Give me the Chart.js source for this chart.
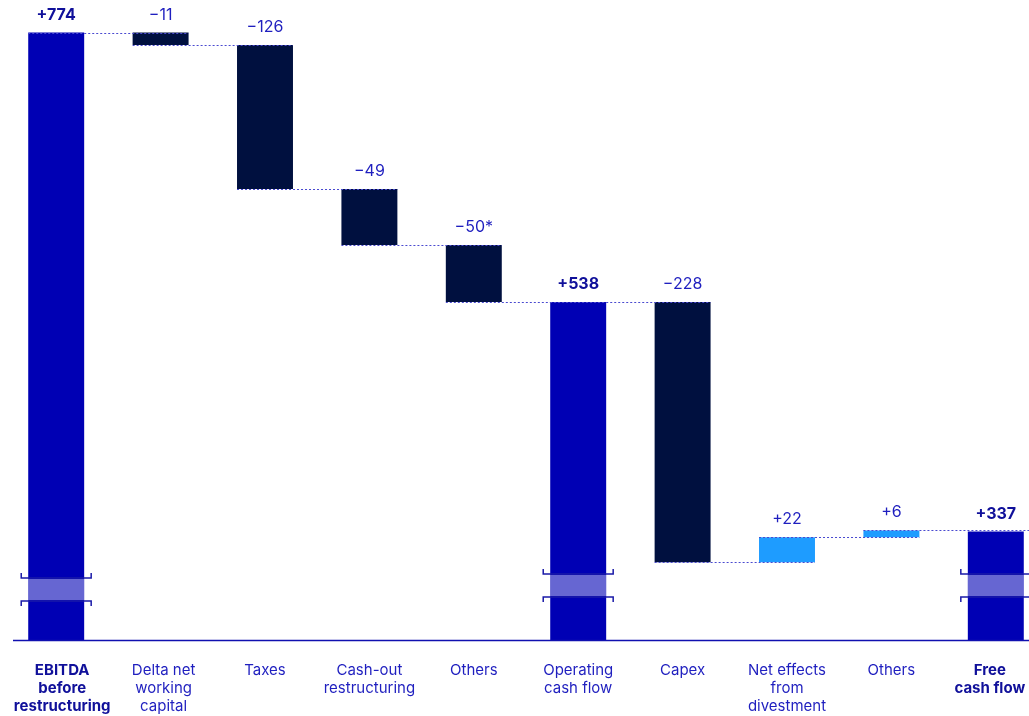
<!DOCTYPE html>
<html>
<head>
<meta charset="utf-8">
<script src="https://cdn.jsdelivr.net/npm/chart.js@4/dist/chart.umd.min.js"></script>
<style>
  html, body { margin: 0; padding: 0; background: #fff; }
  #wrap { width: 1029px; height: 716px; overflow: hidden; position: relative; }
  canvas { display: block; }
</style>
</head>
<body>
<div id="wrap"><canvas id="cashChart" width="1048" height="716"></canvas></div>
<script>
// cash flow bridge, values in the chart's units
const categories = [
  ["EBITDA", "before", "restructuring"],
  ["Delta net", "working", "capital"],
  ["Taxes"],
  ["Cash-out", "restructuring"],
  ["Others"],
  ["Operating", "cash flow"],
  ["Capex"],
  ["Net effects", "from", "divestment"],
  ["Others"],
  ["Free", "cash flow"],
]
const values = [774, -11, -126, -49, -50, 538, -228, 22, 6, 337]
const isTotal = [true, false, false, false, false, true, false, false, false, true]
const boldCategory = [true, false, false, false, false, false, false, false, false, true]
const valueLabels = ["+774", "\u221211", "\u2212126", "\u221249", "\u221250*", "+538", "\u2212228", "+22", "+6", "+337"]
const axisFloor = 242 // axis is broken, totals start here
const axisTop = 785

const TOTAL = "#0000b4"
const NEG = "#00103f"
const POS = "#1e9cff"
const TEXT = "#1f1fbf"
const TEXT_BOLD = "#10109a"
const FONT = "Inter, 'Noto Sans', sans-serif"

// floating ranges + the level each bar ends on
const ranges = []
const levels = []
let running = 0
values.forEach((v, i) => {
  if (isTotal[i]) {
    ranges.push([axisFloor, v])
    running = v
  } else {
    ranges.push([running, running + v])
    running += v
  }
  levels.push(running)
})

const colors = values.map((v, i) => (isTotal[i] ? TOTAL : v < 0 ? NEG : POS))

// break band position (px) for the total bars
const breakTop = { 0: 579, 5: 575, 9: 575 }
// category labels at the edges are pulled inwards a bit
const labelNudge = { 0: 6, 1: 3, 9: -6 }

const bridgePlugin = {
  id: "bridge",
  afterDatasetsDraw(chart) {
    const { ctx, chartArea } = chart
    const meta = chart.getDatasetMeta(0)
    const yScale = chart.scales.y

    // connectors
    ctx.save()
    ctx.strokeStyle = "#4a4ad0"
    ctx.lineWidth = 1
    ctx.setLineDash([2, 2])
    for (let i = 0; i < meta.data.length - 1; i++) {
      const bar = meta.data[i]
      const next = meta.data[i + 1]
      const y = Math.round(yScale.getPixelForValue(levels[i])) + 0.5
      const x0 = bar.x - bar.width / 2
      const x1 = i === meta.data.length - 2 ? chart.width : next.x + next.width / 2
      ctx.beginPath()
      ctx.moveTo(x0, y)
      ctx.lineTo(x1, y)
      ctx.stroke()
    }
    ctx.restore()

    // axis break on totals
    ctx.save()
    meta.data.forEach((bar, i) => {
      if (!isTotal[i]) return
      const left = bar.x - bar.width / 2
      const right = bar.x + bar.width / 2
      const top = breakTop[i]
      const bottom = top + 21
      ctx.fillStyle = "rgba(255,255,255,0.4)"
      ctx.fillRect(left, top, bar.width, bottom - top)
      ctx.strokeStyle = "#1a1aa8"
      ctx.lineWidth = 1.5
      ctx.beginPath()
      ctx.moveTo(left - 7, top - 6)
      ctx.lineTo(left - 7, top - 1)
      ctx.lineTo(right + 7, top - 1)
      ctx.lineTo(right + 7, top - 6)
      ctx.moveTo(left - 7, bottom + 6)
      ctx.lineTo(left - 7, bottom + 1)
      ctx.lineTo(right + 7, bottom + 1)
      ctx.lineTo(right + 7, bottom + 6)
      ctx.stroke()
    })
    ctx.restore()

    // value labels
    ctx.save()
    ctx.textAlign = "center"
    ctx.textBaseline = "alphabetic"
    meta.data.forEach((bar, i) => {
      const top = yScale.getPixelForValue(Math.max(...ranges[i]))
      ctx.font = isTotal[i] ? `bold 16px ${FONT}` : `16px ${FONT}`
      ctx.fillStyle = isTotal[i] ? TEXT_BOLD : TEXT
      ctx.fillText(valueLabels[i], bar.x, top - 13)
    })
    ctx.restore()

    // category labels under the axis
    ctx.save()
    ctx.textAlign = "center"
    ctx.textBaseline = "middle"
    const xScale = chart.scales.x
    categories.forEach((lines, i) => {
      const x = xScale.getPixelForValue(i) + (labelNudge[i] || 0)
      ctx.font = `${boldCategory[i] ? "bold " : ""}15px ${FONT}`
      ctx.fillStyle = boldCategory[i] ? TEXT_BOLD : TEXT
      lines.forEach((line, k) => ctx.fillText(line, x, chartArea.bottom + 30 + k * 18))
    })
    ctx.restore()

    // base line
    ctx.save()
    ctx.strokeStyle = "#1010b0"
    ctx.lineWidth = 1.5
    ctx.beginPath()
    ctx.moveTo(13, chartArea.bottom + 0.5)
    ctx.lineTo(chart.width, chartArea.bottom + 0.5)
    ctx.stroke()
    ctx.restore()
  },
}

new Chart(document.getElementById("cashChart"), {
  type: "bar",
  data: {
    labels: categories,
    datasets: [
      {
        data: ranges,
        backgroundColor: colors,
        borderWidth: 0,
        barPercentage: 0.536,
        categoryPercentage: 1,
      },
    ],
  },
  options: {
    responsive: false,
    animation: false,
    devicePixelRatio: 1,
    layout: { padding: { top: 20, left: 4, right: 0, bottom: 0 } },
    plugins: { legend: { display: false }, tooltip: { enabled: false } },
    scales: {
      x: {
        grid: { display: false, drawTicks: false },
        border: { display: false },
        ticks: { display: false },
        afterFit: (scale) => {
          scale.height = 76
          scale.paddingLeft = 0
          scale.paddingRight = 0
        },
      },
      y: {
        display: false,
        min: axisFloor,
        max: axisTop,
      },
    },
  },
  plugins: [bridgePlugin],
})
</script>
</body>
</html>
